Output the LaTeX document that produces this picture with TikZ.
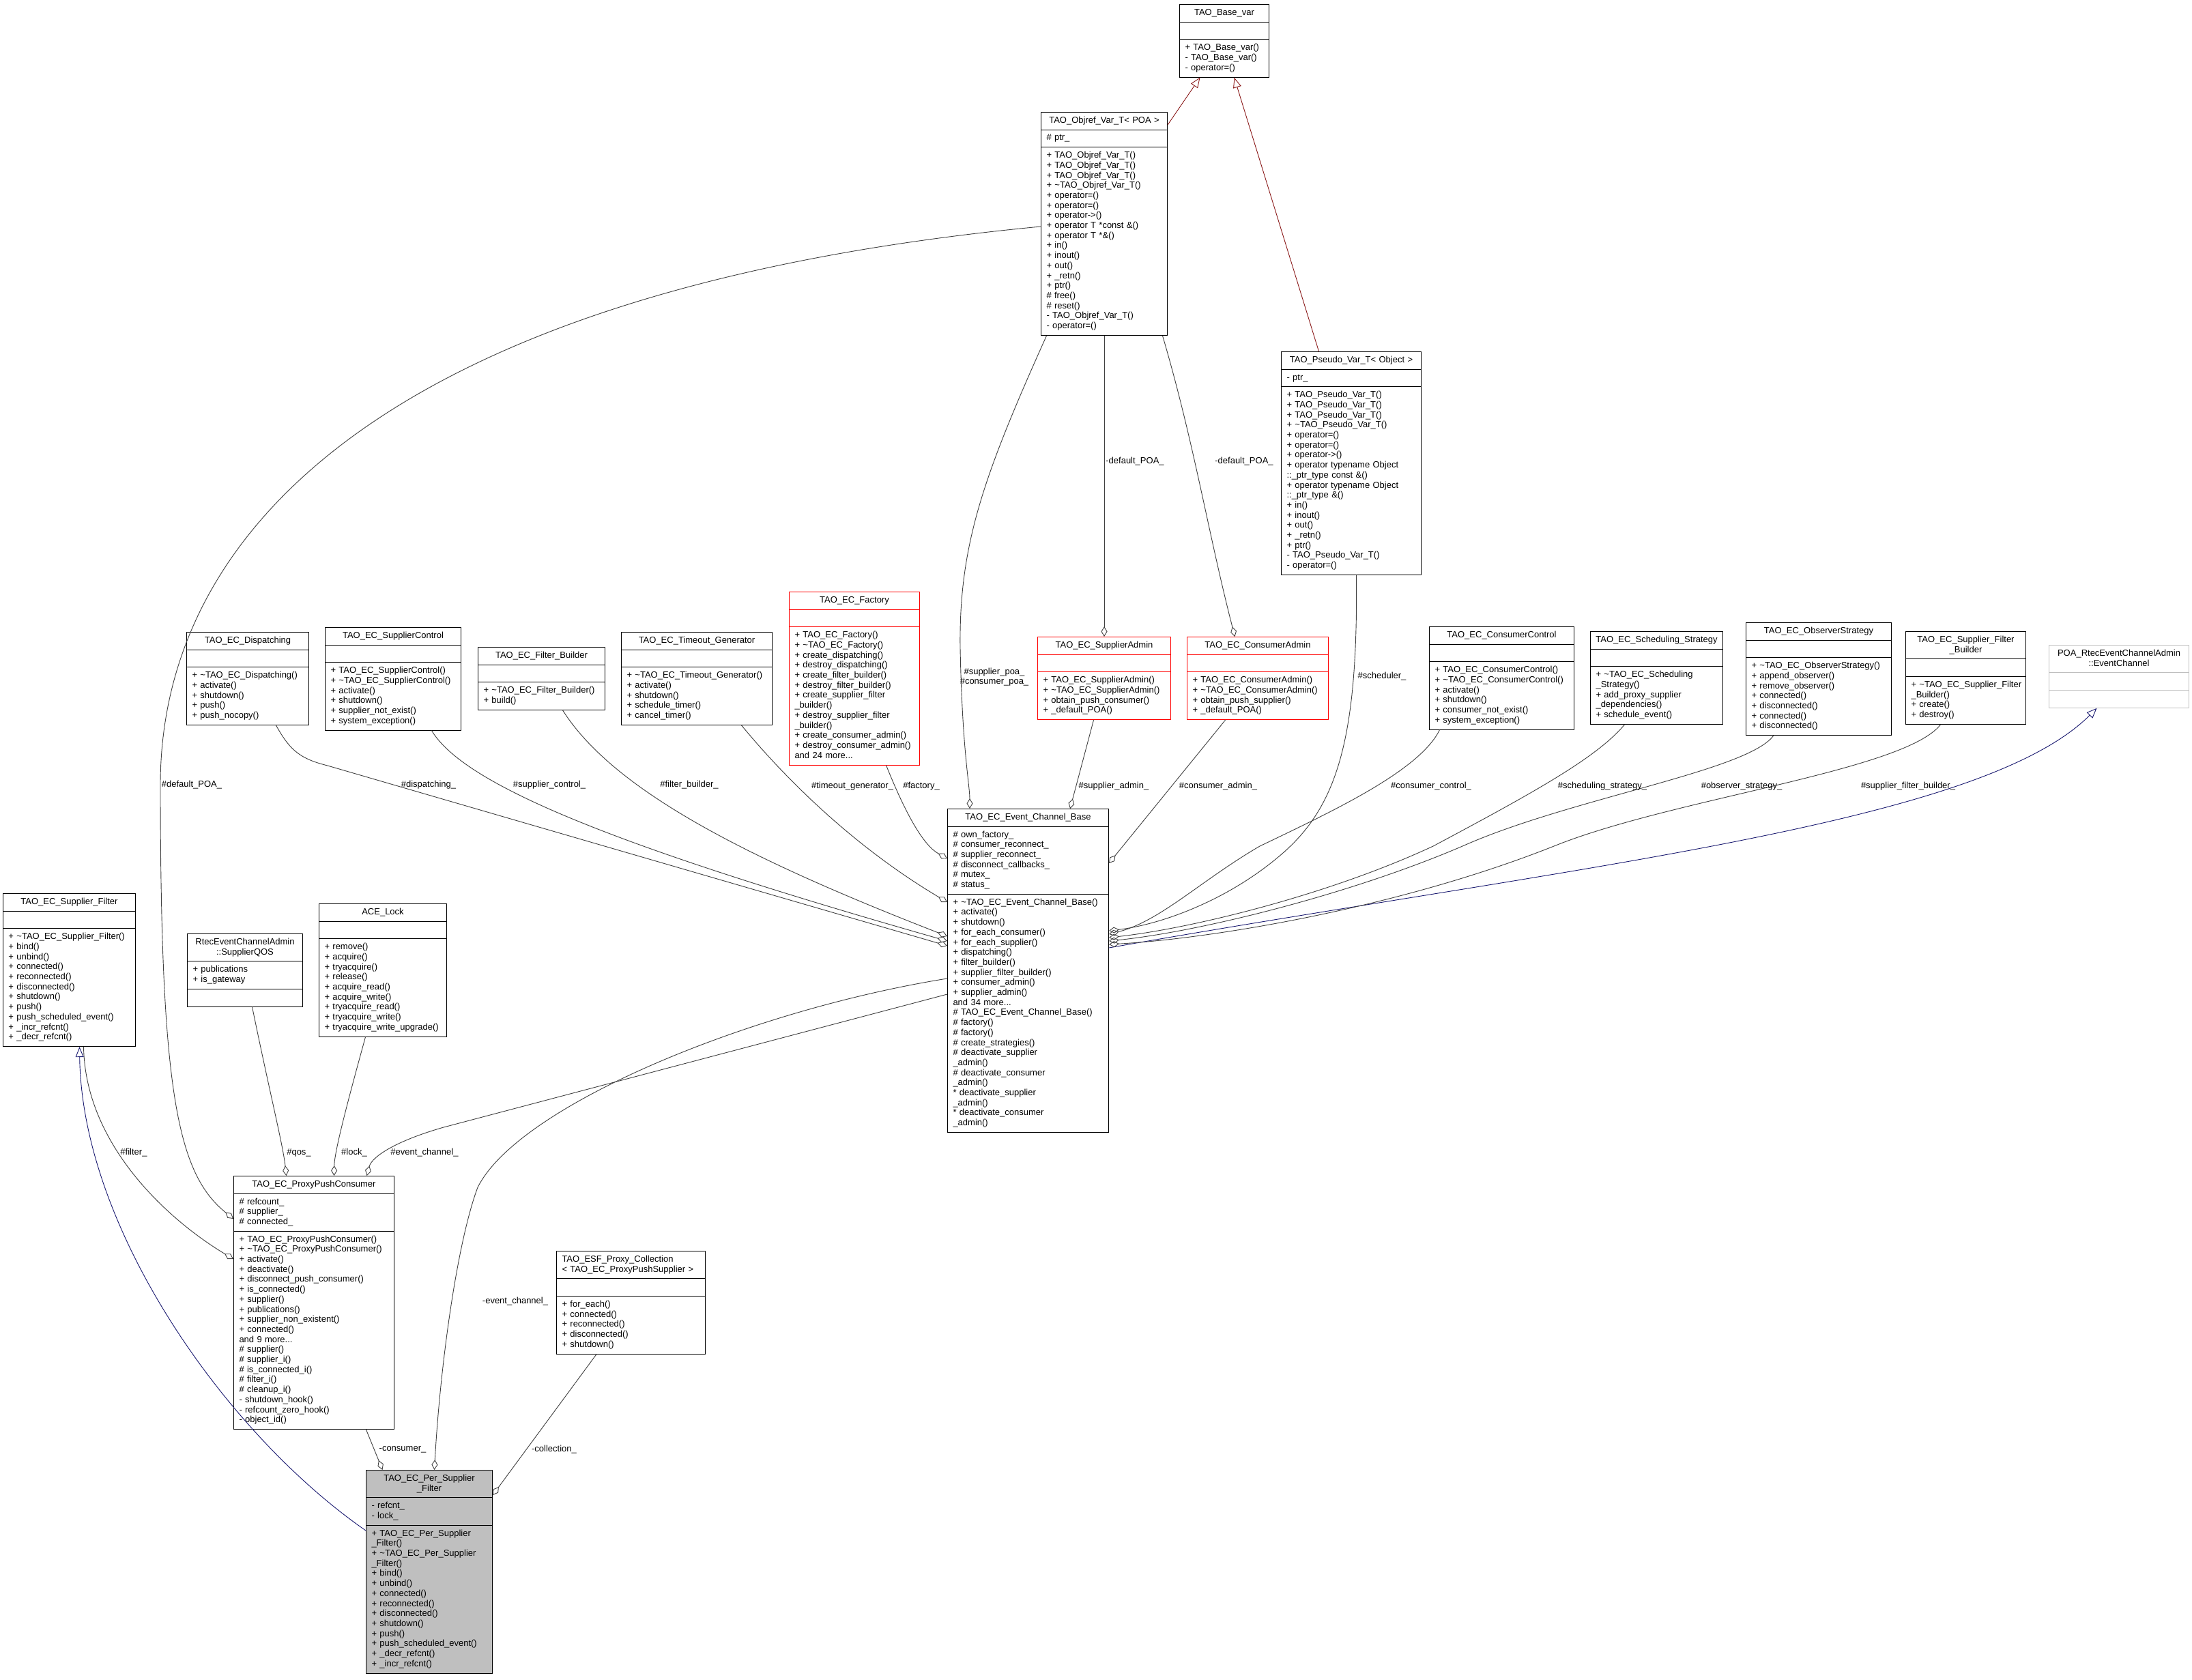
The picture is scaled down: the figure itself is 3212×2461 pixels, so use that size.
\documentclass[tikz,border=0pt]{standalone}
\usepackage{fontspec}
\setmainfont{Liberation Sans}
\usetikzlibrary{arrows.meta,calc,shapes.multipart}
\definecolor{edgegrey}{HTML}{404040}
\definecolor{navyline}{HTML}{191970}
\definecolor{redline}{HTML}{8B1A1A}
\definecolor{boxgrey}{HTML}{BFBFBF}
\newcommand\tld{\textasciitilde}
\newcommand\clsttl[1]{\foreach \mline [count=\cnt] in {#1}{\ifnum\cnt>1 \par\fi\makebox[\linewidth][c]{\strut\ignorespaces\mline\unskip}}}
\newcommand\clsln[1]{\foreach \mline [count=\cnt] in {#1}{\ifnum\cnt>1 \par\fi\mbox{\strut\ignorespaces\mline\unskip}}}
\newcommand\clsnil{\strut}

\begin{document}
\begin{tikzpicture}[x=1pt,y=-1pt,font=\fontsize{13}{14.7}\selectfont,
  cls/.style={draw,line width=1pt,fill=white,rectangle split,rectangle split parts=3,
    anchor=north west,inner xsep=8pt,inner ysep=5pt,align=left,text width=#1},
  trc/.style={cls=#1,draw=red},
  ext/.style={cls=#1,draw=boxgrey},
  sel/.style={cls=#1,fill=boxgrey},
  agg/.style={draw=edgegrey,line width=0.9pt,-{Diamond[open,length=15pt,width=9pt]}},
  pub/.style={draw=navyline,line width=0.9pt,-{Triangle[open,length=15pt,width=12pt]}},
  priv/.style={pub,draw=redline},
  lbl/.style={inner sep=0pt,align=center}]
\fill[white] (0,0) rectangle (3212,2461);
\useasboundingbox (0,0) rectangle (3212,2461);

% top: var templates
\node[cls=115pt] (basevar) at (1728,6) {\clsttl{TAO\_Base\_var}\nodepart{two}\clsnil\nodepart{three}\clsln{+ TAO\_Base\_var(), - TAO\_Base\_var(), - operator=()}};
\node[cls=169pt] (objref) at (1525,164) {\clsttl{TAO\_Objref\_Var\_T< POA >}\nodepart{two}\clsln{\# ptr\_}\nodepart{three}\clsln{+ TAO\_Objref\_Var\_T(), + TAO\_Objref\_Var\_T(), + TAO\_Objref\_Var\_T(),
  + \tld TAO\_Objref\_Var\_T(), + operator=(), + operator=(), + operator->(), + operator T *const \&(), + operator T *\&(),
  + in(), + inout(), + out(), + \_retn(), + ptr(), \# free(), \# reset(), - TAO\_Objref\_Var\_T(), - operator=()}};
\node[cls=189pt] (pseudo) at (1877,515) {\clsttl{TAO\_Pseudo\_Var\_T< Object >}\nodepart{two}\clsln{- ptr\_}\nodepart{three}\clsln{+ TAO\_Pseudo\_Var\_T(), + TAO\_Pseudo\_Var\_T(), + TAO\_Pseudo\_Var\_T(),
  + \tld TAO\_Pseudo\_Var\_T(), + operator=(), + operator=(), + operator->(), + operator typename Object, ::\_ptr\_type const \&(),
  + operator typename Object, ::\_ptr\_type \&(), + in(), + inout(), + out(), + \_retn(), + ptr(), - TAO\_Pseudo\_Var\_T(), - operator=()}};

% middle row: strategies
\node[cls=163pt] (disp) at (273,926) {\clsttl{TAO\_EC\_Dispatching}\nodepart{two}\clsnil\nodepart{three}\clsln{+ \tld TAO\_EC\_Dispatching(), + activate(), + shutdown(), + push(), + push\_nocopy()}};
\node[cls=183pt] (supctl) at (476,919) {\clsttl{TAO\_EC\_SupplierControl}\nodepart{two}\clsnil\nodepart{three}\clsln{+ TAO\_EC\_SupplierControl(), + \tld TAO\_EC\_SupplierControl(), + activate(), + shutdown(), + supplier\_not\_exist(), + system\_exception()}};
\node[cls=170pt] (filtb) at (700,948) {\clsttl{TAO\_EC\_Filter\_Builder}\nodepart{two}\clsnil\nodepart{three}\clsln{+ \tld TAO\_EC\_Filter\_Builder(), + build()}};
\node[cls=205pt] (timeout) at (910,926) {\clsttl{TAO\_EC\_Timeout\_Generator}\nodepart{two}\clsnil\nodepart{three}\clsln{+ \tld TAO\_EC\_Timeout\_Generator(), + activate(), + shutdown(), + schedule\_timer(), + cancel\_timer()}};
\node[trc=175pt] (factory) at (1156,867) {\clsttl{TAO\_EC\_Factory}\nodepart{two}\clsnil\nodepart{three}\clsln{+ TAO\_EC\_Factory(), + \tld TAO\_EC\_Factory(), + create\_dispatching(), + destroy\_dispatching(),
  + create\_filter\_builder(), + destroy\_filter\_builder(), + create\_supplier\_filter, \_builder(), + destroy\_supplier\_filter, \_builder(),
  + create\_consumer\_admin(), + destroy\_consumer\_admin(), and 24 more{...}}};
\node[trc=179pt] (supadm) at (1520,933) {\clsttl{TAO\_EC\_SupplierAdmin}\nodepart{two}\clsnil\nodepart{three}\clsln{+ TAO\_EC\_SupplierAdmin(), + \tld TAO\_EC\_SupplierAdmin(), + obtain\_push\_consumer(), + \_default\_POA()}};
\node[trc=191pt] (conadm) at (1739,933) {\clsttl{TAO\_EC\_ConsumerAdmin}\nodepart{two}\clsnil\nodepart{three}\clsln{+ TAO\_EC\_ConsumerAdmin(), + \tld TAO\_EC\_ConsumerAdmin(), + obtain\_push\_supplier(), + \_default\_POA()}};
\node[cls=196pt] (conctl) at (2094,918) {\clsttl{TAO\_EC\_ConsumerControl}\nodepart{two}\clsnil\nodepart{three}\clsln{+ TAO\_EC\_ConsumerControl(), + \tld TAO\_EC\_ConsumerControl(), + activate(), + shutdown(), + consumer\_not\_exist(), + system\_exception()}};
\node[cls=178pt] (sched) at (2330,925) {\clsttl{TAO\_EC\_Scheduling\_Strategy}\nodepart{two}\clsnil\nodepart{three}\clsln{+ \tld TAO\_EC\_Scheduling, \_Strategy(), + add\_proxy\_supplier, \_dependencies(), + schedule\_event()}};
\node[cls=197pt] (observer) at (2558,912) {\clsttl{TAO\_EC\_ObserverStrategy}\nodepart{two}\clsnil\nodepart{three}\clsln{+ \tld TAO\_EC\_ObserverStrategy(), + append\_observer(), + remove\_observer(), + connected(), + disconnected(), + connected(), + disconnected()}};
\node[cls=160pt] (sfbuild) at (2792,925) {\clsttl{TAO\_EC\_Supplier\_Filter, \_Builder}\nodepart{two}\clsnil\nodepart{three}\clsln{+ \tld TAO\_EC\_Supplier\_Filter, \_Builder(), + create(), + destroy()}};
\node[ext=189pt] (poa) at (3002,945) {\clsttl{POA\_RtecEventChannelAdmin, ::EventChannel}\nodepart{two}\clsnil\nodepart{three}\clsnil};

% event channel
\node[cls=220pt] (ecb) at (1388,1185) {\clsttl{TAO\_EC\_Event\_Channel\_Base}\nodepart{two}\clsln{\# own\_factory\_, \# consumer\_reconnect\_, \# supplier\_reconnect\_, \# disconnect\_callbacks\_, \# mutex\_, \# status\_}\nodepart{three}\clsln{
  + \tld TAO\_EC\_Event\_Channel\_Base(), + activate(), + shutdown(), + for\_each\_consumer(), + for\_each\_supplier(), + dispatching(),
  + filter\_builder(), + supplier\_filter\_builder(), + consumer\_admin(), + supplier\_admin(), and 34 more{...},
  \# TAO\_EC\_Event\_Channel\_Base(), \# factory(), \# factory(), \# create\_strategies(), \# deactivate\_supplier, \_admin(),
  \# deactivate\_consumer, \_admin(), * deactivate\_supplier, \_admin(), * deactivate\_consumer, \_admin()}};

% lower left
\node[cls=178pt] (supfilter) at (4,1309) {\clsttl{TAO\_EC\_Supplier\_Filter}\nodepart{two}\clsnil\nodepart{three}\clsln{+ \tld TAO\_EC\_Supplier\_Filter(), + bind(), + unbind(), + connected(), + reconnected(),
  + disconnected(), + shutdown(), + push(), + push\_scheduled\_event(), + \_incr\_refcnt(), + \_decr\_refcnt()}};
\node[cls=153pt] (qos) at (274,1368) {\clsttl{RtecEventChannelAdmin, ::SupplierQOS}\nodepart{two}\clsln{+ publications, + is\_gateway}\nodepart{three}\clsnil};
\node[cls=171pt] (acelock) at (467,1324) {\clsttl{ACE\_Lock}\nodepart{two}\clsnil\nodepart{three}\clsln{+ remove(), + acquire(), + tryacquire(), + release(), + acquire\_read(), + acquire\_write(),
  + tryacquire\_read(), + tryacquire\_write(), + tryacquire\_write\_upgrade()}};
\node[cls=219pt] (ppc) at (342,1723) {\clsttl{TAO\_EC\_ProxyPushConsumer}\nodepart{two}\clsln{\# refcount\_, \# supplier\_, \# connected\_}\nodepart{three}\clsln{
  + TAO\_EC\_ProxyPushConsumer(), + \tld TAO\_EC\_ProxyPushConsumer(), + activate(), + deactivate(), + disconnect\_push\_consumer(),
  + is\_connected(), + supplier(), + publications(), + supplier\_non\_existent(), + connected(), and 9 more{...},
  \# supplier(), \# supplier\_i(), \# is\_connected\_i(), \# filter\_i(), \# cleanup\_i(), - shutdown\_hook(), - refcount\_zero\_hook(), - object\_id()}};
\node[cls=202pt] (esf) at (815,1833) {\clsln{TAO\_ESF\_Proxy\_Collection, < TAO\_EC\_ProxyPushSupplier >}\nodepart{two}\clsnil\nodepart{three}\clsln{+ for\_each(), + connected(), + reconnected(), + disconnected(), + shutdown()}};
\node[sel=169pt] (psf) at (536,2154) {\clsttl{TAO\_EC\_Per\_Supplier, \_Filter}\nodepart{two}\clsln{- refcnt\_, - lock\_}\nodepart{three}\clsln{+ TAO\_EC\_Per\_Supplier, \_Filter(), + \tld TAO\_EC\_Per\_Supplier, \_Filter(),
  + bind(), + unbind(), + connected(), + reconnected(), + disconnected(), + shutdown(), + push(), + push\_scheduled\_event(), + \_decr\_refcnt(), + \_incr\_refcnt()}};

% inheritance
\draw[priv] ($(objref.north east)+(0,19)$) -- ($(basevar.south)+(-35.5,0)$);
\draw[priv] ($(pseudo.north)+(-47.5,0)$) -- ($(basevar.south)+(14.5,0)$);
\draw[pub] ($(psf.north west)+(0,89)$) .. controls (330,2100) and (120,1800) .. ($(supfilter.south)+(15,0)$);
\draw[pub] ($(ecb.north east)+(0,204)$) .. controls (2300,1270) and (2900,1210) .. ($(poa.south)+(-32.5,0)$);

% members of TAO_EC_Per_Supplier_Filter
\draw[agg] ($(ppc.south)+(76.5,0)$) -- ($(psf.north)+(-68.5,0)$);
\draw[agg] ($(ecb.north west)+(0,249)$) .. controls (1100,1480) and (760,1620) .. (700,1740) .. controls (670,1820) and (645,2000) .. ($(psf.north)+(7.5,0)$);
\draw[agg] ($(esf.south)+(-50.5,0)$) -- ($(psf.north east)+(0,37)$);

% members of TAO_EC_ProxyPushConsumer
\draw[agg] ($(objref.north west)+(0,168)$) .. controls (600,420) and (235,760) .. (235,1150) .. controls (235,1600) and (260,1720) .. ($(ppc.north west)+(0,63)$);
\draw[agg] ($(supfilter.south)+(21,0)$) .. controls (125,1680) and (250,1790) .. ($(ppc.north west)+(0,122)$);
\draw[agg] ($(qos.south)+(10.5,0)$) .. controls (395,1600) and (415,1680) .. ($(ppc.north)+(-40.5,0)$);
\draw[agg] ($(acelock.south)+(-25.5,0)$) .. controls (505,1630) and (490,1690) .. ($(ppc.north)+(29.5,0)$);
\draw[agg] ($(ecb.north west)+(0,272)$) -- (650,1652) .. controls (580,1672) and (545,1695) .. ($(ppc.north)+(77.5,0)$);

% members of TAO_EC_Event_Channel_Base
\draw[agg] ($(disp.south)+(41.5,0)$) .. controls (425,1100) and (440,1112) .. (480,1122) -- ($(ecb.north west)+(0,201)$);
\draw[agg] ($(supctl.south)+(56.5,0)$) .. controls (680,1150) and (900,1240) .. ($(ecb.north west)+(0,194)$);
\draw[agg] ($(filtb.south)+(31,0)$) .. controls (900,1160) and (1100,1260) .. ($(ecb.north west)+(0,187)$);
\draw[agg] ($(timeout.south)+(65.5,0)$) .. controls (1150,1140) and (1250,1240) .. ($(ecb.north west)+(0,137)$);
\draw[agg] ($(factory.south)+(46.5,0)$) .. controls (1330,1200) and (1355,1240) .. ($(ecb.north west)+(0,73)$);
\draw[agg] ($(objref.south)+(-84.5,0)$) .. controls (1440,700) and (1405,800) .. (1407,950) .. controls (1410,1100) and (1421,1150) .. ($(ecb.north west)+(33,0)$);
\draw[agg] ($(supadm.south)+(-15.5,0)$) -- ($(ecb.north west)+(180,0)$);
\draw[agg] ($(conadm.south)+(-47.5,0)$) -- ($(ecb.north east)+(0,80)$);
\draw[agg] ($(pseudo.south)+(7.5,0)$) .. controls (1990,1080) and (1960,1180) .. (1880,1250) .. controls (1800,1320) and (1700,1355) .. ($(ecb.north east)+(0,179)$);
\draw[agg] ($(conctl.south)+(-91,0)$) .. controls (2080,1130) and (1950,1190) .. (1846,1240) .. controls (1760,1290) and (1700,1350) .. ($(ecb.north east)+(0,184)$);
\draw[agg] ($(sched.south)+(-47,0)$) .. controls (2340,1110) and (2250,1160) .. (2100,1240) .. controls (1950,1310) and (1750,1360) .. ($(ecb.north east)+(0,189)$);
\draw[agg] ($(observer.south)+(-66.5,0)$) .. controls (2560,1130) and (2300,1170) .. (2143,1240) .. controls (1980,1310) and (1760,1365) .. ($(ecb.north east)+(0,194)$);
\draw[agg] ($(sfbuild.south)+(-37,0)$) .. controls (2790,1130) and (2450,1170) .. (2277,1240) .. controls (2050,1330) and (1780,1375) .. ($(ecb.north east)+(0,199)$);

% POA of the admins
\draw[agg] (objref.south) -- (supadm.north);
\draw[agg] ($(objref.south)+(85.5,0)$) .. controls (1750,650) and (1770,780) .. ($(conadm.north)+(-33.5,0)$);

% edge labels
\foreach \n/\x/\y/\t in {lDefPoa/281/1150/\#default\_POA\_, lDisp/628/1150/\#dispatching\_, lSupCtl/805/1150/\#supplier\_control\_,
  lFiltB/1010/1150/\#filter\_builder\_, lTimeout/1249/1152/\#timeout\_generator\_, lFactory/1350/1152/\#factory\_,
  lSupAdm/1632/1152/\#supplier\_admin\_, lConAdm/1785/1152/\#consumer\_admin\_, lConCtl/2097/1152/\#consumer\_control\_,
  lSched/2348/1152/\#scheduling\_strategy\_, lObs/2552/1152/\#observer\_strategy\_, lSfb/2796/1152/\#supplier\_filter\_builder\_,
  lScheduler/2025/991/\#scheduler\_, lPoaA/1663/676/-default\_POA\_, lPoaB/1823/676/-default\_POA\_,
  lFilter/196/1689/\#filter\_, lQos/438/1689/\#qos\_, lLock/519/1689/\#lock\_, lEvch/622/1689/\#event\_channel\_,
  lEvchP/755/1907/-event\_channel\_, lCons/590/2124/-consumer\_, lColl/812/2124/-collection\_}
  \node[lbl] (\n) at (\x,\y) {\t};
\node[lbl] (lPoas) at (1457,992) {\#supplier\_poa\_\\\#consumer\_poa\_};
\end{tikzpicture}
\end{document}
